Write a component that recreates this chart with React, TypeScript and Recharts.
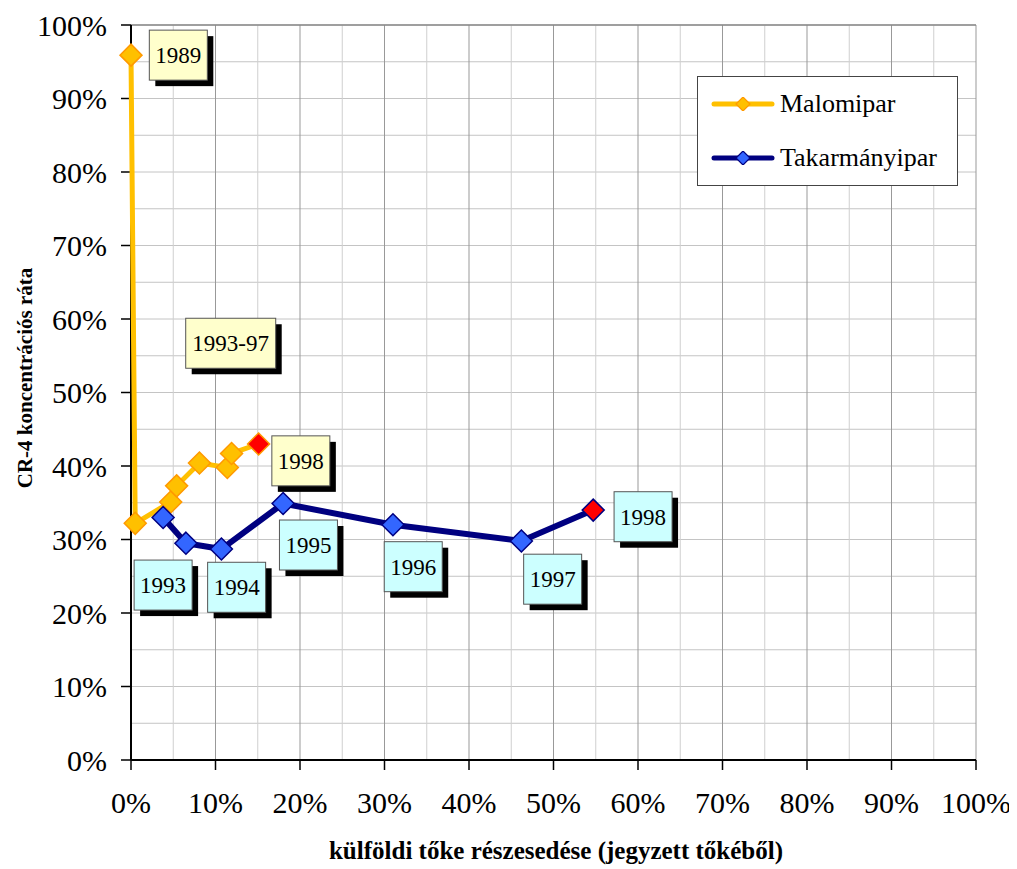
import { ScatterChart, Scatter, XAxis, YAxis, CartesianGrid, ReferenceLine, ReferenceDot, Legend } from "recharts";

// külföldi tőke részesedése (%), CR-4 (%)
const malomX = [0, 0.5, 4.7, 5.4, 8.1, 11.4, 11.9, 15.1];
const malomY = [95.9, 32.2, 35.1, 37.3, 40.4, 39.8, 41.7, 43.0];
const takarX = [3.8, 6.5, 10.7, 18.0, 31.0, 46.2, 54.7];
const takarY = [33.0, 29.5, 28.7, 34.9, 32.0, 29.8, 34.0];

const ticks = [0, 10, 20, 30, 40, 50, 60, 70, 80, 90, 100];
const minorTicks = [5, 15, 25, 35, 45, 55, 65, 75, 85, 95];

// year labels (anchored in data coordinates)
const malomLabels = ["1989", "1993-97", "1998"];
const malomLabelX = [5.6, 11.8, 20.1];
const malomLabelY = [95.9, 56.7, 40.7];
const takarLabels = ["1993", "1994", "1995", "1996", "1997", "1998"];
const takarLabelX = [3.8, 12.5, 21.0, 33.4, 49.9, 60.6];
const takarLabelY = [23.8, 23.5, 29.25, 26.3, 24.6, 33.1];

const malomData = malomX.map((x, i) => ({ x, y: malomY[i] }));
const takarData = takarX.map((x, i) => ({ x, y: takarY[i] }));

const FONT = "Liberation Serif";

function diamond(fill: string, stroke: string, lastFill: string, lastX: number) {
  return (props: any) => {
    const { cx, cy, payload } = props;
    const isLast = payload && payload.x === lastX;
    const r = 11;
    return (
      <path
        d={`M${cx},${cy - r}L${cx + r},${cy}L${cx},${cy + r}L${cx - r},${cy}Z`}
        fill={isLast ? lastFill : fill}
        stroke={stroke}
        strokeWidth={1.5}
      />
    );
  };
}

function labelBox(text: string, bg: string) {
  return (props: any) => {
    const { cx, cy } = props;
    const w = text.length > 4 ? 90 : 58;
    const h = 50;
    const x = cx - w / 2;
    const y = cy - h / 2;
    return (
      <g>
        <rect x={x + 6} y={y + 6} width={w} height={h} fill="#000" />
        <rect x={x} y={y} width={w} height={h} fill={bg} stroke="#555" strokeWidth={1} />
        <text x={cx} y={cy + 8} textAnchor="middle" style={{ fontFamily: FONT, fontSize: 23 }} fill="#000">
          {text}
        </text>
      </g>
    );
  };
}

function LegendIcon({ color, fill, stroke }: { color: string; fill: string; stroke: string }) {
  return (
    <svg width={64} height={14} style={{ display: "block" }}>
      <line x1={3} y1={7} x2={61} y2={7} stroke={color} strokeWidth={5} strokeLinecap="round" />
      <path d="M32,0L39,7L32,14L25,7Z" fill={fill} stroke={stroke} strokeWidth={1.2} />
    </svg>
  );
}

function renderLegend() {
  const items = [
    { name: "Malomipar", color: "#FFC000", fill: "#FFC000", stroke: "#FF9900" },
    { name: "Takarmányipar", color: "#000080", fill: "#3366FF", stroke: "#000080" },
  ];
  return (
    <div
      style={{
        width: 259,
        height: 108,
        background: "#fff",
        border: "1px solid #444",
        fontFamily: FONT,
        fontSize: 26,
        boxSizing: "content-box",
      }}
    >
      {items.map((it, i) => (
        <div
          key={it.name}
          style={{ position: "absolute", left: 14, top: i === 0 ? 12 : 66, display: "flex", alignItems: "center", lineHeight: "32px" }}
        >
          <LegendIcon color={it.color} fill={it.fill} stroke={it.stroke} />
          <span style={{ marginLeft: 5 }}>{it.name}</span>
        </div>
      ))}
    </div>
  );
}

const tickStyle = { fill: "#000", fontSize: 30, fontFamily: FONT, style: { fontFamily: FONT } };

export default function App() {
  return (
    <div style={{ fontFamily: FONT }}>
      <ScatterChart width={1009} height={861} margin={{ top: 17, right: 41, left: 0, bottom: 8 }} style={{ fontFamily: FONT }}>
        <CartesianGrid stroke="#c4c4c4" vertical={false} />
        {minorTicks.map((t) => (
          <ReferenceLine key={"hy" + t} y={t} stroke="#c4c4c4" strokeWidth={1} />
        ))}
        {minorTicks.map((t) => (
          <ReferenceLine key={"vx" + t} x={t} stroke="#cfcfcf" strokeWidth={1} />
        ))}
        {ticks.slice(1).map((t) => (
          <ReferenceLine key={"mx" + t} x={t} stroke="#999" strokeWidth={1} />
        ))}
        <ReferenceLine y={100} stroke="#888" strokeWidth={1.5} />
        <XAxis
          type="number"
          dataKey="x"
          domain={[0, 100]}
          ticks={ticks}
          tickFormatter={(v) => v + "%"}
          height={101}
          tickSize={10}
          tickMargin={22}
          axisLine={{ stroke: "#000", strokeWidth: 2 }}
          tickLine={{ stroke: "#000", strokeWidth: 1.5 }}
          tick={tickStyle}
          interval={0}
          label={() => (
            <text x={548} y={851} textAnchor="middle" style={{ fontFamily: FONT, fontSize: 25, fontWeight: "bold" }} fill="#000">
              külföldi tőke részesedése (jegyzett tőkéből)
            </text>
          )}
        />
        <YAxis
          type="number"
          dataKey="y"
          domain={[0, 100]}
          ticks={ticks}
          tickFormatter={(v) => v + "%"}
          width={123}
          tickSize={10}
          tickMargin={14}
          axisLine={{ stroke: "#000", strokeWidth: 2 }}
          tickLine={{ stroke: "#000", strokeWidth: 1.5 }}
          tick={tickStyle}
          interval={0}
          label={() => (
            <text
              transform="translate(24,370) rotate(-90)"
              textAnchor="middle"
              style={{ fontFamily: FONT, fontSize: 21, fontWeight: "bold" }}
              fill="#000"
            >
              CR-4 koncentrációs ráta
            </text>
          )}
        />
        <Legend
          layout="vertical"
          align="center"
          verticalAlign="middle"
          content={renderLegend}
          wrapperStyle={{ position: "absolute", left: 689, top: 68, width: 261, height: 110 }}
        />
        <Scatter
          name="Malomipar"
          data={malomData}
          line={{ stroke: "#FFC000", strokeWidth: 5 }}
          lineType="joint"
          shape={diamond("#FFC000", "#FF9900", "#FF0000", malomX[malomX.length - 1])}
          isAnimationActive={false}
        />
        <Scatter
          name="Takarmányipar"
          data={takarData}
          line={{ stroke: "#000080", strokeWidth: 6 }}
          lineType="joint"
          shape={diamond("#3366FF", "#000080", "#FF0000", takarX[takarX.length - 1])}
          isAnimationActive={false}
        />
        {malomLabels.map((t, i) => (
          <ReferenceDot key={"ml" + i} x={malomLabelX[i]} y={malomLabelY[i]} r={0} shape={labelBox(t, "#FFFFCC")} />
        ))}
        {takarLabels.map((t, i) => (
          <ReferenceDot key={"tl" + i} x={takarLabelX[i]} y={takarLabelY[i]} r={0} shape={labelBox(t, "#CCFFFF")} />
        ))}
      </ScatterChart>
    </div>
  );
}
